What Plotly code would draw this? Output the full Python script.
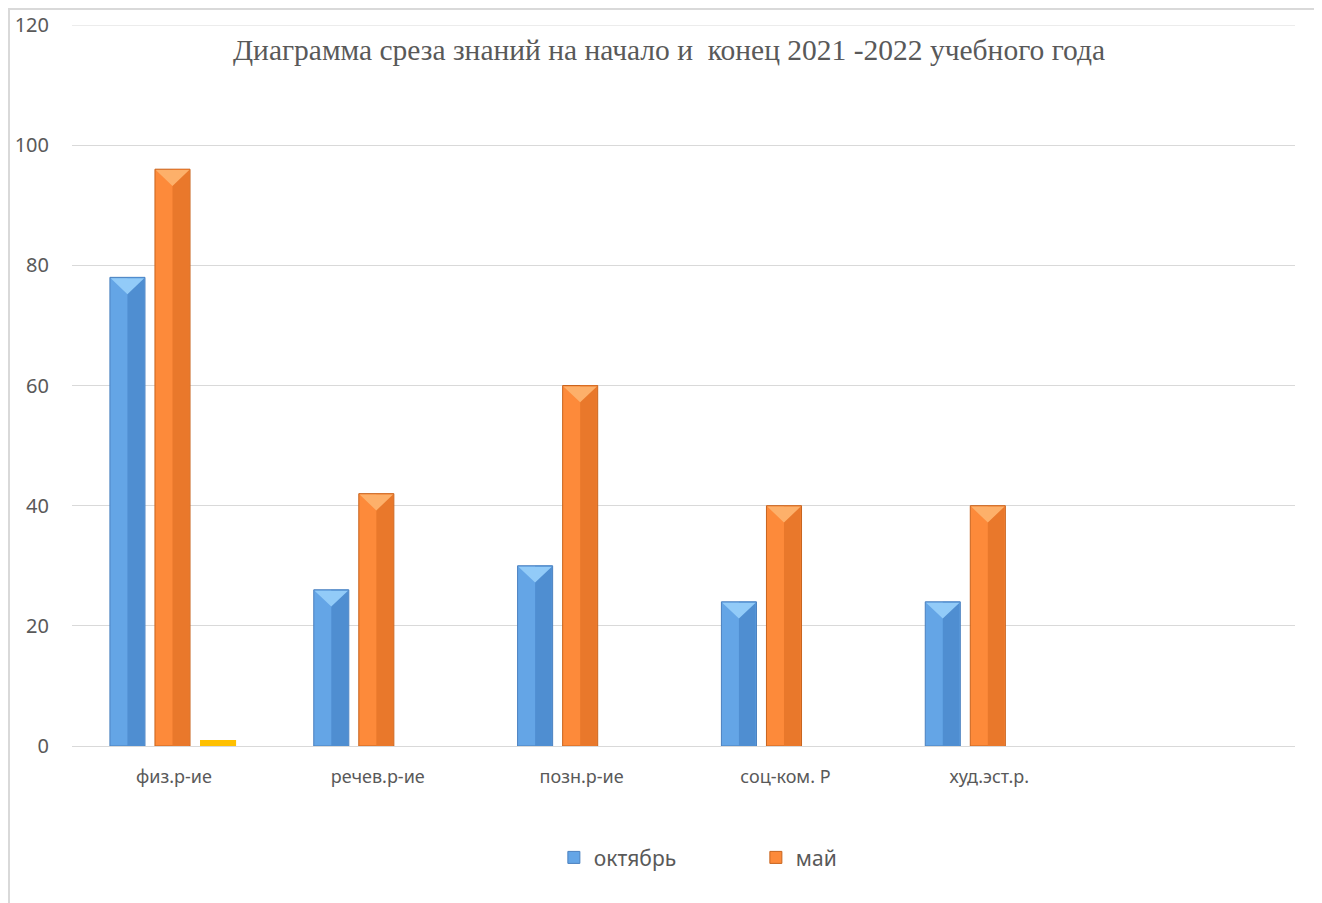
import plotly.graph_objects as go

categories = ["физ.р-ие", "речев.р-ие", "позн.р-ие", "соц-ком. Р", "худ.эст.р.", ""]
october = [78, 26, 30, 24, 24, None]
may = [96, 42, 60, 40, 40, None]
extra = [1, None, None, None, None, None]
y_ticks = [0, 20, 40, 60, 80, 100, 120]
title = "Диаграмма среза знаний на начало и  конец 2021 -2022 учебного года"

xs = list(range(len(categories)))
W = 0.172
styles = {
    "октябрь": dict(off=-0.314, base="#64a5e6", dark="#4f8ed1", top="#92cbf8", line="#4a80bf"),
    "май": dict(off=-0.093, base="#fd8a3a", dark="#e9782b", top="#fdb06a", line="#c8641e"),
}

fig = go.Figure()
for name, vals in [("октябрь", october), ("май", may)]:
    s = styles[name]
    fig.add_trace(go.Bar(x=xs, y=vals, name=name, offset=s["off"], width=W,
                         marker=dict(color=s["base"], line=dict(color=s["line"], width=1))))
    fig.add_trace(go.Bar(x=xs, y=vals, showlegend=False, hoverinfo="skip",
                         offset=s["off"] + W / 2, width=W / 2 - 0.004,
                         marker=dict(color=s["dark"], line=dict(width=0))))
    tx, ty = [], []
    for x, v in zip(xs, vals):
        if v is None:
            continue
        xl = x + s["off"] + 0.004
        xr = x + s["off"] + W - 0.004
        tx += [xl, xr, (xl + xr) / 2, xl, None]
        ty += [v - 0.15, v - 0.15, v - 2.8, v - 0.15, None]
    fig.add_trace(go.Scatter(x=tx, y=ty, mode="lines", fill="toself", fillcolor=s["top"],
                             line=dict(width=0, color=s["top"]), showlegend=False, hoverinfo="skip"))

fig.add_trace(go.Bar(x=xs, y=extra, name="", showlegend=False, offset=0.128, width=0.177,
                     marker=dict(color="#ffc000", line=dict(width=0))))

fig.update_layout(
    width=1322, height=903,
    barmode="overlay",
    paper_bgcolor="white", plot_bgcolor="white",
    margin=dict(l=64, r=35, t=17, b=165, autoexpand=False),
    title=dict(text=title, x=0.5, xref="container", y=1 - 42 / 903, yref="container",
               xanchor="center", yanchor="middle", automargin=False,
               font=dict(family="Liberation Serif", size=29.5, color="#595959")),
    xaxis=dict(tickmode="array", tickvals=xs[:5], ticktext=categories[:5], range=[-0.5, 5.5],
               showgrid=False, zeroline=False, showline=False, ticks="", automargin=False,
               ticklabelstandoff=18,
               tickfont=dict(family="Noto Sans", size=18, color="#595959")),
    yaxis=dict(range=[0, 120], tickvals=y_ticks, showgrid=True, gridcolor="#d9d9d9", gridwidth=1,
               zeroline=True, zerolinecolor="#d9d9d9", zerolinewidth=1, showline=False, ticks="",
               automargin=False, ticklabelstandoff=22,
               tickfont=dict(family="Noto Sans", size=20, color="#595959")),
    legend=dict(orientation="h", x=0.394, xanchor="left", y=-0.155, yanchor="middle",
                entrywidth=157, entrywidthmode="pixels", itemwidth=30,
                font=dict(family="Noto Sans", size=21, color="#595959")),
    shapes=[
        dict(type="rect", xref="paper", yref="paper", x0=-63 / 1223, x1=1.1, y0=-0.3, y1=1 + 16 / 721,
             line=dict(color="#d9d9d9", width=2), fillcolor="rgba(0,0,0,0)", layer="below"),
        dict(type="line", xref="paper", yref="y", x0=0, x1=1, y0=120, y1=120,
             line=dict(color="#d9d9d9", width=1), layer="below"),
    ],
    showlegend=True,
)
fig.write_html("out.html")
